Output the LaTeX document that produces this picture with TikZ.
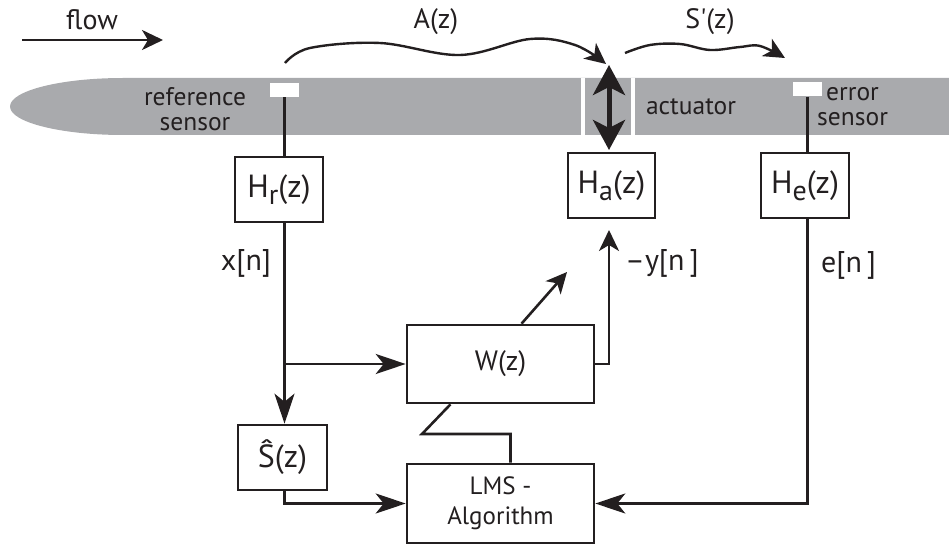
\documentclass[tikz,border=0pt]{standalone}
\usepackage{fontspec}
\setmainfont{PT Sans}
\usetikzlibrary{arrows.meta,calc}
\definecolor{ink}{RGB}{35,31,32}
\definecolor{band}{RGB}{169,170,173}
\begin{document}
\begin{tikzpicture}[x=1pt,y=-1pt,
  ln/.style={draw=ink, line width=2.6pt},
  blk/.style={draw=ink, line width=2.6pt, fill=white, inner sep=0pt, text=ink},
  lbl/.style={text=ink, inner sep=0pt, font=\fontsize{28}{28}\selectfont},
  bandfont/.style={font=\fontsize{25.5}{25}\selectfont},
  sigfont/.style={font=\fontsize{30}{30}\selectfont},
  boxfont/.style={font=\fontsize{32}{32}\selectfont},
  sensorbox/.style={fill=white, inner sep=0pt, minimum width=29pt, minimum height=14pt},
  big/.style={-{Stealth[length=30pt,width=20pt,inset=8pt]}},
  small/.style={-{Stealth[length=21pt,width=20pt,inset=6pt]}}
]
\useasboundingbox (0,0) rectangle (949,545);
% band
\fill[band] (949,78) -- (123,78) arc[start angle=270, end angle=90, x radius=113, y radius=28.5] -- (949,135) -- cycle;
\draw[white, line width=3.5pt] (583,78) -- (583,135);
\draw[white, line width=3.5pt] (633,78) -- (633,135);
% sensors
\node[sensorbox] (rs) at (284.5,90) {};
\node[sensorbox] (es) at (807.5,89.5) {};
% band labels
\node[lbl, align=center, bandfont] (reflbl) at (195,109) {reference\\sensor};
\node[lbl, bandfont] (actlbl) at (691,107) {actuator};
\node[lbl, align=left, bandfont, anchor=west] (errlbl) at (817,107) {\hspace*{9pt}error\\sensor};
% flow
\node[lbl] (flowlbl) at (92,20) {flow};
\coordinate (f0) at (22,40);
\coordinate (f1) at (163,40);
\draw[ln, small] (f0) -- (f1);
% boxes
\node[blk, boxfont, minimum width=88pt, minimum height=65pt] (hr) at (279,189.5) {H\raisebox{-7pt}{\fontsize{28}{28}\selectfont r}(z)};
\node[blk, boxfont, minimum width=87pt, minimum height=65pt] (ha) at (611.5,185.5) {H\raisebox{-7pt}{\fontsize{28}{28}\selectfont a}(z)};
\node[blk, boxfont, minimum width=88pt, minimum height=65pt] (he) at (805,185.5) {H\raisebox{-7pt}{\fontsize{28}{28}\selectfont e}(z)};
\node[blk, font=\fontsize{28}{28}\selectfont, minimum width=187pt, minimum height=78pt] (w) at (500.5,364) {W(z)};
\node[blk, boxfont, minimum width=89pt, minimum height=65pt] (sh) at (282.5,457.5) {Ŝ(z)};
\node[blk, font=\fontsize{25}{30}\selectfont, align=center, minimum width=187pt, minimum height=79pt] (lms) at (500.5,503.5) {LMS -\\Algorithm};
% signal labels
\node[lbl, sigfont] (xlbl) at (246,263) {x[n]};
\node[lbl, sigfont, anchor=west] (ylbl) at (625,263) {–y[n\thinspace]};
\node[lbl, sigfont, anchor=west] (elbl) at (821,265) {e[n\thinspace]};
\node[lbl] (alb) at (436,22) {A(z)};
\node[lbl] (slb) at (710,22) {S\textquotesingle(z)};
% sensor leads
\draw[ln] (rs.south) -- (rs.south |- hr.north);
\draw[ln] (es.south) -- (es.south |- he.north);
% x path
\coordinate (xtop) at (rs.south |- hr.south);
\draw[ln, big] (xtop) -- (xtop |- sh.north);
\coordinate (br) at (rs.south |- w.west);
\draw[ln, big] (br) -- (w.west);
% S-hat to LMS
\draw[ln, big] (sh.south -| rs.south) |- (lms.west);
% error to LMS
\draw[ln, big] (he.south -| es.south) |- (lms.east);
% W to Ha
\coordinate (wout) at (609,230);
\draw[ln, small] (w.east) -| (wout);
% adaptation arrow
\coordinate (ad0) at ($(w.north)+(21,0)$);
\coordinate (ad1) at (567,272);
\draw[ln, small] (ad0) -- (ad1);
% LMS to W
\coordinate (l0) at ($(lms.north)+(10,0)$);
\coordinate (l1) at (422,434);
\coordinate (l2) at ($(w.south)+(-50,0)$);
\draw[ln] (l0) |- (l1) -- (l2);
% actuator double arrow
\coordinate (d0) at (609,65);
\coordinate (d1) at (609,150);
\draw[draw=ink, line width=5pt, {Stealth[length=30pt,width=32pt,inset=8pt]}-{Stealth[length=30pt,width=32pt,inset=8pt]}] (d0) -- (d1);
% A(z) wave
\draw[ln, line width=2.4pt, small] plot[smooth, tension=0.6] coordinates {(285,63) (310,48) (380,43) (460,55) (530,39) (575,45) (606,64)};
% S'(z) wave
\draw[ln, line width=2.4pt, small] plot[smooth, tension=0.6] coordinates {(625,53) (650,45) (680,44) (710,50) (740,47) (760,46) (785,58)};
\end{tikzpicture}
\end{document}
